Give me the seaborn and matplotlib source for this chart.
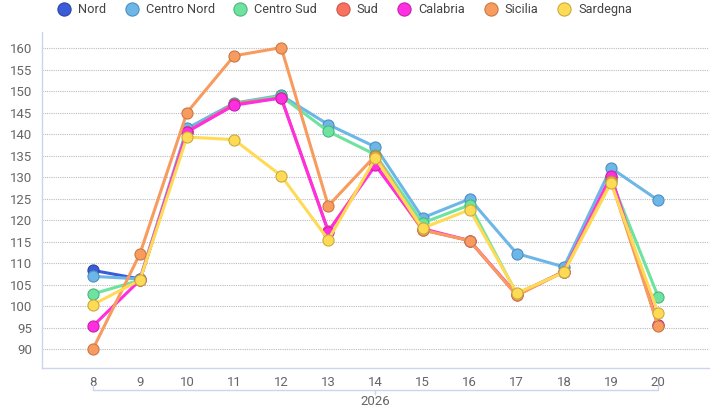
import numpy as np
import pandas as pd
import matplotlib
matplotlib.use('Agg')
import matplotlib.pyplot as plt
from matplotlib.lines import Line2D
import seaborn as sns

weeks = [8, 9, 10, 11, 12, 13, 14, 15, 16, 17, 18, 19, 20]
nan = np.nan

nord = [108.3, 106.3, nan, nan, nan, nan, nan, nan, nan, nan, nan, nan, nan]
centro_nord = [106.9, 106.3, 141.3, 147.2, 149.0, 142.2, 137.0, 120.5, 124.9, 112.2, 109.1, 132.1, 124.6]
centro_sud = [102.8, 106.0, 140.5, 147.0, 148.8, 140.6, 135.2, 119.3, 123.5, 102.8, 108.0, 129.5, 102.2]
sud = [nan, 106.0, 140.5, 147.0, 148.4, 117.4, 133.0, 117.7, 115.2, 102.5, 108.0, 130.0, 95.5]
calabria = [95.3, 106.0, 140.5, 146.7, 148.4, 117.3, 132.7, 118.0, 115.2, 102.7, 108.0, 130.3, 95.6]
sicilia = [89.9, 112.1, 145.0, 158.2, 160.1, 123.3, 135.0, 117.7, 115.2, 102.5, 108.0, 129.0, 95.4]
sardegna = [100.3, 106.0, 139.3, 138.7, 130.3, 115.4, 134.4, 118.1, 122.4, 103.0, 107.8, 128.6, 98.4]

regions = ['Nord', 'Centro Nord', 'Centro Sud', 'Sud', 'Calabria', 'Sicilia', 'Sardegna']
series = [nord, centro_nord, centro_sud, sud, calabria, sicilia, sardegna]
colors = ['#3a5cd8', '#6cb6e8', '#6ee3a0', '#f8725f', '#ff2ee0', '#f89b5e', '#ffdb55']
edges = ['#2a45a8', '#4f8fbf', '#4fb57c', '#c9594a', '#c622ad', '#c77a48', '#c9ab3c']

sns.set_style('white')
plt.rcParams['font.family'] = ['Roboto', 'DejaVu Sans']

fig = plt.figure(figsize=(7.22, 4.12), dpi=100)
ax = fig.add_axes([0.058, 0.107, 0.924, 0.815])

for name, vals, c, ec in zip(regions, series, colors, edges):
    df = pd.DataFrame({'week': weeks, 'value': vals}).dropna()
    sns.lineplot(data=df, x='week', y='value', ax=ax, color=c, linewidth=2.2,
                 marker='o', markersize=8, markeredgecolor=ec, markeredgewidth=0.8,
                 legend=False)

ax.set_xlim(6.92, 21.08)
ax.set_ylim(85.6, 163.7)
ax.set_yticks(range(90, 161, 5))
ax.set_xticks(weeks)
ax.set_xlabel('')
ax.set_ylabel('')
ax.yaxis.grid(True, linestyle=(0, (1, 1)), color='#bbbbbb', linewidth=0.8)
ax.xaxis.grid(False)
for s in ['top', 'right']:
    ax.spines[s].set_visible(False)
for s in ['left', 'bottom']:
    ax.spines[s].set_color('#ccd6eb')
    ax.spines[s].set_linewidth(1)
ax.tick_params(axis='y', length=5, width=0.8, color='#ccd6eb', labelcolor='#666666', labelsize=9.5, pad=2)
ax.tick_params(axis='x', length=5, width=0.8, color='#ccd6eb', labelcolor='#666666', labelsize=9.5, pad=1)

# group bracket under the x tick labels
trans = ax.get_xaxis_transform()
ax.plot([8, 20], [-0.066, -0.066], transform=trans, color='#ccd6eb', lw=1, clip_on=False)
for xv in [8, 20]:
    ax.plot([xv, xv], [-0.066, -0.052], transform=trans, color='#ccd6eb', lw=1, clip_on=False)
ax.plot([14, 14], [-0.066, -0.078], transform=trans, color='#ccd6eb', lw=1, clip_on=False)
ax.text(14, -0.08, '2026', transform=trans, ha='center', va='top', color='#666666', fontsize=9.5)

handles = [Line2D([0], [0], marker='o', linestyle='', markersize=9.5, markerfacecolor=c,
                  markeredgecolor=ec, markeredgewidth=0.8) for c, ec in zip(colors, edges)]
fig.legend(handles, regions, loc='center', bbox_to_anchor=(0.473, 0.977), ncol=7, frameon=False,
           fontsize=9.2, handletextpad=0.1, columnspacing=1.0, labelcolor='#444444',
           borderaxespad=0, borderpad=0)

fig.savefig('out.png', dpi=100)
